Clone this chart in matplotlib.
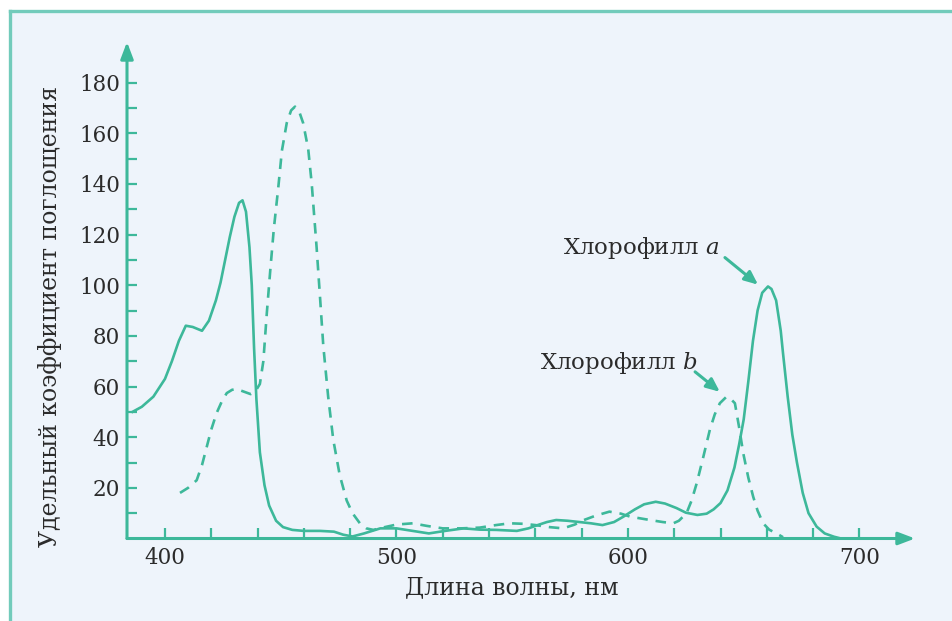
import matplotlib
matplotlib.use("Agg")
import matplotlib.pyplot as plt
from matplotlib.patches import Rectangle
from matplotlib.lines import Line2D
from matplotlib.ticker import FixedLocator

# ---- data ----
wl_a = [386, 390, 395, 400, 403, 406, 409, 412, 416, 419, 422, 424, 426, 428, 430, 432,
        433.5, 435, 436.5, 437.5, 438.5, 439.5, 441, 443, 445, 448, 451, 455, 460, 467,
        473, 477, 481, 486, 493, 500, 507, 514, 521, 529, 536, 543, 552, 557, 561, 565,
        569, 574, 578, 584, 589, 594, 598, 603, 607, 612, 616, 621, 625, 630, 634, 637,
        640, 643, 646, 648, 650, 652, 654, 656, 658, 660.5, 662, 664, 666, 667, 669, 671,
        673, 675.5, 678, 681.5, 685, 689, 692]
abs_a = [50, 52, 56, 63, 70, 78, 84, 83.5, 82, 86, 94, 101, 110, 119, 127, 132.5,
         133.5, 129, 115, 100, 75, 55, 34, 21, 13, 7, 4.5, 3.4, 3, 3,
         2.7, 1.5, 0.8, 2, 4, 4, 3, 2, 3, 4, 3.5, 3.4, 3, 4, 5.3, 6.5,
         7.3, 7, 6.6, 6, 5.3, 6.5, 8.6, 11.5, 13.5, 14.5, 13.8, 12, 10.2, 9.3, 9.8, 11.5,
         14, 19, 28, 37, 47, 62, 78, 90, 97, 99.5, 98.5, 94, 82, 73, 56, 41,
         30, 18, 10, 4.7, 2, 0.7, 0]

wl_b = [406.5, 410, 413.7, 416, 418, 420, 422.3, 424.5, 426.7, 429, 431, 434, 437, 439,
        441, 442.5, 444, 445.5, 447, 449, 450.5, 452.6, 454.5, 456.2, 458, 459.7, 461.9,
        463.4, 465.5, 467, 468.4, 470.5, 472.7, 475.5, 478.5, 481, 484.2, 487, 490, 495,
        500, 507, 513, 520, 528, 536, 543, 549, 555, 560, 566, 572, 577, 581, 586, 592,
        597, 601, 605, 609.5, 615, 619.6, 622, 625.3, 627.5, 629.7, 632.5, 635.4, 637.5,
        639.7, 642.6, 644.5, 646.2, 648, 649.8, 652, 654.1, 656, 658.4, 661, 664.2, 667]
abs_b = [18, 20, 23, 29, 36, 43, 49.5, 54, 57.4, 58.7, 59, 58, 57, 58,
         61, 70, 89, 106, 122, 139, 153, 164, 169, 170.5, 168.5, 164, 153.6,
         140, 115, 95, 76, 56, 39, 25, 15, 10, 6, 4, 3.4, 4.5,
         5.5, 6, 5, 4, 4, 4.3, 5.3, 6, 5.8, 5.3, 4.5, 4, 5.5, 7.3, 9, 10.6,
         9.8, 8.6, 8, 7.3, 6.5, 6, 7, 10, 15, 21.8, 32, 43, 49,
         53.4, 56, 55, 53.4, 44, 33.7, 24, 16.5, 11, 6, 3.5, 2, 0.5]

x_tick_labels = [400, 500, 600, 700]
x_minor_ticks = list(range(400, 701, 20))
y_tick_labels = [20, 40, 60, 80, 100, 120, 140, 160, 180]
y_minor_ticks = list(range(10, 181, 10))
label_a = "Хлорофилл $\\mathit{a}$"
label_b = "Хлорофилл $\\mathit{b}$"
xlabel = "Длина волны, нм"
ylabel = "Удельный коэффициент поглощения"

# ---- styling ----
TEAL = "#3db89a"
BORDER = "#72cbbb"
BG = "#eef4fb"
TXT = "#2b2b2b"
plt.rcParams["font.family"] = ["DejaVu Serif"]
plt.rcParams["mathtext.fontset"] = "dejavuserif"

W, H = 953, 621
fig = plt.figure(figsize=(W / 100, H / 100), dpi=100)
fig.patch.set_facecolor("white")

# panel background and border (top + left)
fig.add_artist(Rectangle((10 / W, 0), 1, 1 - 11 / H, transform=fig.transFigure,
                         facecolor=BG, edgecolor="none", zorder=-5))
fig.add_artist(Line2D([10 / W, 1], [1 - 11 / H, 1 - 11 / H], transform=fig.transFigure,
                      color=BORDER, lw=2.4, zorder=-4))
fig.add_artist(Line2D([10 / W, 10 / W], [0, 1 - 11 / H], transform=fig.transFigure,
                      color=BORDER, lw=2.4, zorder=-4))

ax_l, ax_r, ax_b, ax_t = 127, 915, 538.5, 42
ax = fig.add_axes([ax_l / W, 1 - ax_b / H, (ax_r - ax_l) / W, (ax_b - ax_t) / H])
ax.set_zorder(2)
ax.set_facecolor("none")
ax.set_xlim(383.6, 724)
ax.set_ylim(0, 196)

ax.plot(wl_a, abs_a, color=TEAL, lw=1.9, solid_joinstyle="round", zorder=3)
ax.plot(wl_b, abs_b, color=TEAL, lw=1.9, linestyle=(0, (4, 3)), zorder=3)

for s in ax.spines.values():
    s.set_visible(False)

# axis arrows
ax.annotate("", xy=(1, 0), xytext=(0, 0), xycoords="axes fraction",
            arrowprops=dict(arrowstyle="-|>,head_length=1.0,head_width=0.38",
                            color=TEAL, lw=2.2, shrinkA=0, shrinkB=0))
ax.annotate("", xy=(0, 1), xytext=(0, 0), xycoords="axes fraction",
            arrowprops=dict(arrowstyle="-|>,head_length=1.0,head_width=0.38",
                            color=TEAL, lw=2.2, shrinkA=0, shrinkB=0))

ax.xaxis.set_major_locator(FixedLocator(x_tick_labels))
ax.xaxis.set_minor_locator(FixedLocator(x_minor_ticks))
ax.yaxis.set_major_locator(FixedLocator(y_tick_labels))
ax.yaxis.set_minor_locator(FixedLocator(y_minor_ticks))
ax.tick_params(which="both", direction="in", color=TEAL, width=1.6, length=7,
               labelcolor=TXT, labelsize=15.5)
ax.tick_params(axis="x", which="both", length=8, pad=6)
ax.tick_params(axis="y", which="both", pad=5)

ax.set_xlabel(xlabel, fontsize=17, color=TXT, va="center")
ax.xaxis.set_label_coords((512 - ax_l) / (ax_r - ax_l), (ax_b - 588) / (ax_b - ax_t))
ax.set_ylabel(ylabel, fontsize=17, color=TXT, va="center", ha="center")
ax.yaxis.set_label_coords((50 - ax_l) / (ax_r - ax_l), (ax_b - 316) / (ax_b - ax_t))

arrow_kw = dict(arrowstyle="-|>,head_length=0.8,head_width=0.35", color=TEAL, lw=2.2,
                shrinkA=0, shrinkB=0)
ax.annotate("", xy=(656.2, 100.2), xytext=(641.9, 110.9), arrowprops=arrow_kw)
ax.annotate("", xy=(639.7, 57.9), xytext=(629.0, 65.8), arrowprops=arrow_kw)
ax.text(571.9, 114.8, label_a, fontsize=16.5, color=TXT, ha="left", va="center")
ax.text(562.0, 69.4, label_b, fontsize=16.5, color=TXT, ha="left", va="center")

fig.savefig("out.png", dpi=100)
